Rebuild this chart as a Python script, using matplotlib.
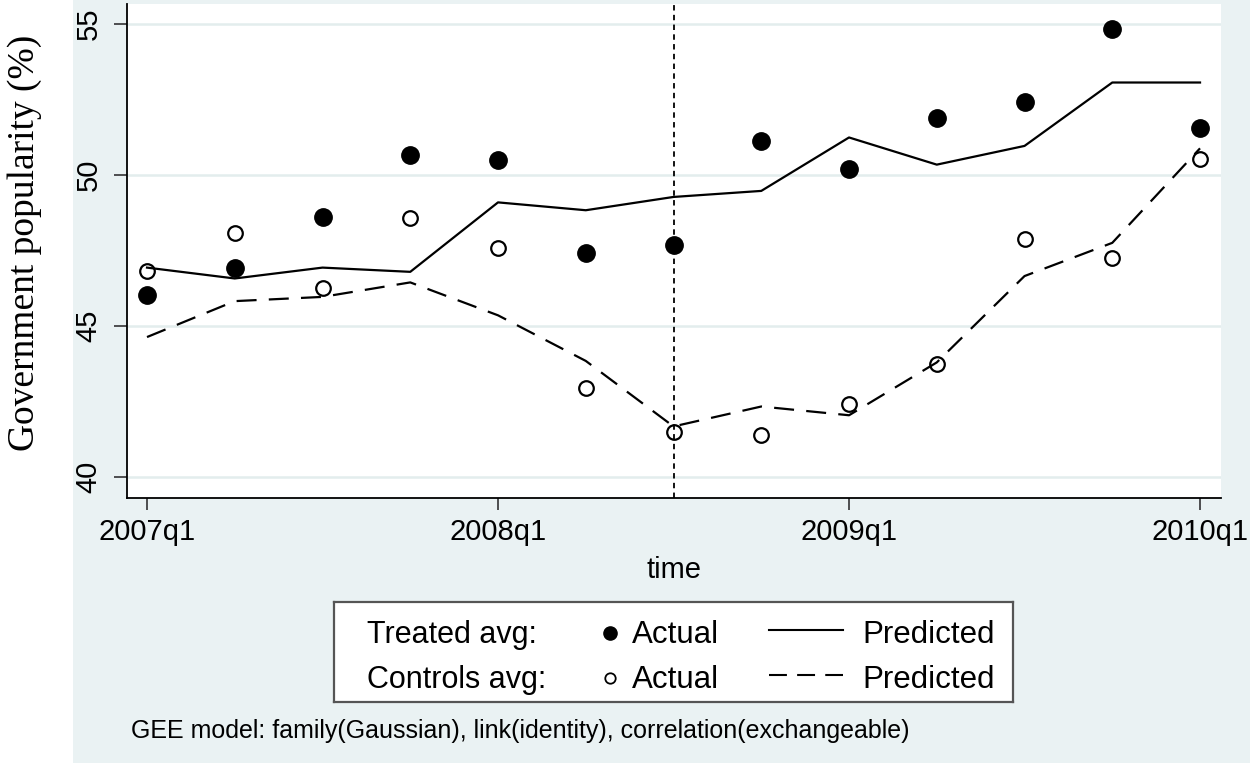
import numpy as np
import matplotlib.pyplot as plt
from matplotlib.patches import Rectangle

# quarterly averages, government popularity in %
quarters = ['2007q1', '2007q2', '2007q3', '2007q4',
            '2008q1', '2008q2', '2008q3', '2008q4',
            '2009q1', '2009q2', '2009q3', '2009q4', '2010q1']
treated_actual = [46.04, 46.94, 48.60, 50.66, 50.50, 47.42, 47.68,
                  51.12, 50.22, 51.88, 52.41, 54.85, 51.56]
treated_pred = [46.94, 46.58, 46.94, 46.80, 49.10, 48.84, 49.28,
                49.48, 51.25, 50.35, 50.97, 53.07, 53.07]
control_actual = [46.82, 48.07, 46.25, 48.58, 47.60, 42.96, 41.50,
                  41.39, 42.41, 43.74, 47.88, 47.26, 50.53]
control_pred = [44.64, 45.83, 45.97, 46.45, 45.36, 43.85, 41.68,
                42.34, 42.05, 43.80, 46.66, 47.76, 50.89]

event_quarter = '2008q3'
tick_quarters = ['2007q1', '2008q1', '2009q1', '2010q1']
y_ticks = [40, 45, 50, 55]

note = 'GEE model: family(Gaussian), link(identity), correlation(exchangeable)'

BG = '#eaf2f3'
GRID = '#e3eded'
W, H = 1250, 763

plt.rcParams['font.family'] = ['Liberation Sans', 'DejaVu Sans']

fig = plt.figure(figsize=(W / 100, H / 100), dpi=100, facecolor=BG)
# white strip behind the y title
fig.add_artist(Rectangle((0, 0), 73 / W, 1, transform=fig.transFigure,
                         facecolor='white', edgecolor='none', zorder=0))

ax = fig.add_axes([127 / W, 1 - 498 / H, (1221 - 127) / W, (498 - 4) / H])
x = np.arange(len(quarters))

for yv in y_ticks:
    ax.axhline(yv, color=GRID, lw=1.8, zorder=0)

ax.axvline(quarters.index(event_quarter), color='black', lw=1.3,
           dashes=(3, 2.4), zorder=1)
ax.plot(x, treated_pred, color='black', lw=1.6, zorder=2)
ax.plot(x, control_pred, color='black', lw=1.6, dashes=(9, 5.5), zorder=2)
ax.plot(x, treated_actual, 'o', color='black', ms=12.5, zorder=3)
ax.plot(x, control_actual, 'o', mfc='none', mec='black', mew=1.6,
        ms=10.5, zorder=3)

ax.set_xlim(-0.228, 12.239)
ax.set_ylim(39.31, 55.67)
ax.set_xticks([quarters.index(q) for q in tick_quarters])
ax.set_xticklabels(tick_quarters)
ax.set_yticks(y_ticks)

for side in ['top', 'right']:
    ax.spines[side].set_visible(False)
for side in ['left', 'bottom']:
    ax.spines[side].set_linewidth(1.3)

ax.tick_params(axis='x', length=8.6, width=1.2, color='#333333',
               labelsize=21, pad=6)
ax.tick_params(axis='y', length=9.4, width=1.2, color='#333333',
               labelsize=21, pad=8, labelrotation=90)
for lbl in ax.get_yticklabels():
    lbl.set_va('center')

ax.set_xlabel('time', fontsize=21, labelpad=7)

fig.text(25 / W, 1 - 243 / H, 'Government popularity (%)', rotation=90,
         ha='center', va='center', family='Liberation Serif', size=27)

# legend box drawn in its own axes, coordinates in pixels
lax = fig.add_axes([334 / W, 1 - 702 / H, (1013 - 334) / W, 100 / H])
lax.set_xlim(334, 1013)
lax.set_ylim(702, 602)
lax.set_xticks([])
lax.set_yticks([])
lax.set_facecolor('white')
for sp in lax.spines.values():
    sp.set_color('#555555')
    sp.set_linewidth(1.6)

rows = [('Treated avg:', dict(color='black', ms=9.5), dict()),
        ('Controls avg:', dict(mfc='none', mec='black', mew=1.3, ms=7.5),
         dict(dashes=(8.6, 4.9)))]
for i, (title, mk, ls) in enumerate(rows):
    yb = 643 + 45 * i
    lax.text(367, yb, title, va='baseline', ha='left', size=22)
    lax.plot([610], [yb - 10], 'o', **mk)
    lax.text(632, yb, 'Actual', va='baseline', ha='left', size=22.5)
    lax.plot([769, 843], [yb - 13, yb - 13], color='black', lw=1.5, **ls)
    lax.text(862, yb, 'Predicted', va='baseline', ha='left', size=22.5)

fig.text(131 / W, 1 - 731 / H, note, va='center', ha='left', size=18)

fig.savefig('out.png', dpi=100, facecolor=BG)
